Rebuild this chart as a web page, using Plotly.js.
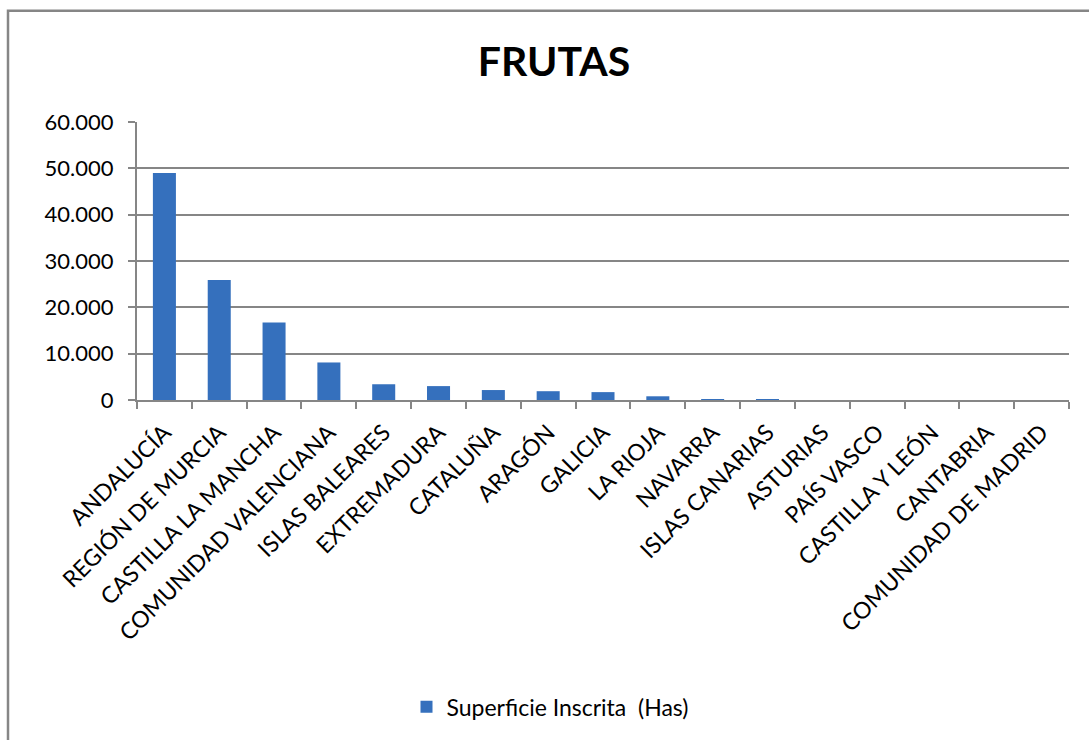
<!DOCTYPE html>
<html>
<head>
<meta charset="utf-8">
<script src="https://cdn.plot.ly/plotly-3.0.1.min.js"></script>
<style>
  html, body { margin: 0; padding: 0; background: #ffffff; }
  #chart { width: 1089px; height: 740px; }
</style>
</head>
<body>
<div id="chart"></div>
<script>
const categories = [
  "ANDALUCÍA", "REGIÓN DE MURCIA", "CASTILLA LA MANCHA", "COMUNIDAD VALENCIANA",
  "ISLAS BALEARES", "EXTREMADURA", "CATALUÑA", "ARAGÓN", "GALICIA", "LA RIOJA",
  "NAVARRA", "ISLAS CANARIAS", "ASTURIAS", "PAÍS VASCO", "CASTILLA Y LEÓN",
  "CANTABRIA", "COMUNIDAD DE MADRID"
];
const superficie = [
  49000, 25900, 16700, 8100, 3400, 3000, 2150, 1900, 1700, 800,
  150, 120, 0, 0, 0, 0, 0
];
const seriesName = "Superficie Inscrita  (Has)";
const chartTitle = "FRUTAS";
const yTicks = [0, 10000, 20000, 30000, 40000, 50000, 60000];

const FONT = "Lato, 'Open Sans', 'Liberation Sans', sans-serif";
const GRID = "#868686";

// plot area: x 137..1069, y 122..402
const plotL = 137, plotR = 1069, plotT = 122, plotB = 402;
const pw = plotR - plotL, ph = plotB - plotT;

const trace = {
  type: "bar",
  x: categories,
  y: superficie,
  name: seriesName,
  marker: { color: "#3570bd", line: { width: 0 } },
  showlegend: true,
  hoverinfo: "x+y"
};

const layout = {
  width: 1089,
  height: 740,
  margin: { l: plotL, r: 1089 - plotR, t: plotT, b: 740 - plotB, pad: 0 },
  paper_bgcolor: "#ffffff",
  plot_bgcolor: "#ffffff",
  separators: ",.",
  font: { family: FONT, color: "#000000", size: 21 },
  title: {
    text: "<b>" + chartTitle + "</b>",
    font: { family: FONT, size: 41, color: "#000000" },
    xref: "container", x: 554 / 1089, xanchor: "center",
    yref: "container", y: 1 - 62 / 740, yanchor: "middle"
  },
  bargap: 0.58,
  xaxis: {
    type: "category",
    tickangle: -45,
    ticks: "outside",
    tickson: "boundaries",
    ticklen: 7,
    tickwidth: 2,
    tickcolor: GRID,
    showline: true,
    linecolor: GRID,
    linewidth: 2,
    showgrid: false,
    ticklabelstandoff: 8,
    tickfont: { family: FONT, size: 23, color: "#000000" },
    automargin: false
  },
  yaxis: {
    range: [0, 60000],
    tickvals: yTicks,
    tickformat: ",d",
    ticks: "outside",
    ticklen: 7,
    tickwidth: 2,
    tickcolor: GRID,
    showline: true,
    linecolor: GRID,
    linewidth: 2,
    showgrid: true,
    gridcolor: GRID,
    gridwidth: 2,
    zeroline: false,
    ticklabelstandoff: 10,
    tickfont: { family: FONT, size: 22, color: "#000000" },
    automargin: false
  },
  legend: {
    orientation: "h",
    xref: "paper", yref: "paper",
    x: (550 - plotL) / pw, xanchor: "center",
    y: (plotB - 711) / ph, yanchor: "middle",
    font: { family: FONT, size: 23, color: "#000000" },
    itemwidth: 30
  },
  shapes: [
    {
      type: "rect", xref: "paper", yref: "paper",
      x0: (8 - plotL) / pw, x1: (1100 - plotL) / pw,
      y0: (plotB - 760) / ph, y1: (plotB - 10) / ph,
      line: { color: GRID, width: 2.5 },
      fillcolor: "rgba(0,0,0,0)",
      layer: "below"
    }
  ]
};

Plotly.newPlot("chart", [trace], layout, { displayModeBar: false, responsive: false });
</script>
</body>
</html>
